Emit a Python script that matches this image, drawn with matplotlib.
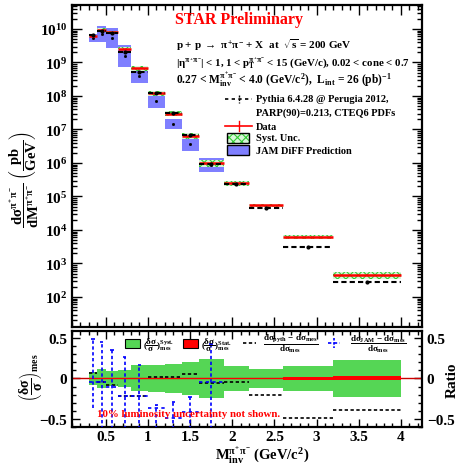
import numpy as np
import matplotlib
matplotlib.use("Agg")
import matplotlib.pyplot as plt
from matplotlib.ticker import LogLocator, MultipleLocator, NullFormatter, FixedLocator
from matplotlib.patches import Rectangle
from matplotlib.lines import Line2D

plt.rcParams['font.family'] = ['Liberation Serif', 'DejaVu Serif']
plt.rcParams['font.weight'] = 'bold'
plt.rcParams['mathtext.fontset'] = 'custom'
plt.rcParams['mathtext.rm'] = 'Liberation Serif:bold'
plt.rcParams['mathtext.it'] = 'Liberation Serif:bold'
plt.rcParams['mathtext.bf'] = 'Liberation Serif:bold'
plt.rcParams['mathtext.sf'] = 'Liberation Serif:bold'
plt.rcParams['hatch.linewidth'] = 0.8

# ---------------- data ----------------
bin_edges = [0.3, 0.4, 0.5, 0.65, 0.8, 1.0, 1.2, 1.4, 1.6, 1.9, 2.2, 2.6, 3.2, 4.0]
data_xsec = [6.3e9, 9.3e9, 8.0e9, 2.6e9, 6.7e8, 1.23e8, 3.0e7, 6.4e6, 9.8e5, 2.5e5, 5.5e4, 6.3e3, 4.6e2]
syst_rel = [0.08, 0.12, 0.09, 0.10, 0.16, 0.17, 0.18, 0.20, 0.24, 0.15, 0.12, 0.15, 0.23]
stat_rel = [0.01, 0.01, 0.01, 0.01, 0.01, 0.01, 0.01, 0.01, 0.01, 0.01, 0.01, 0.015, 0.025]
pythia_ratio = [0.07, -0.04, -0.08, -0.22, -0.22, 0.02, 0.02, 0.06, -0.06, -0.04, -0.20, -0.49, -0.39]
# JAM DiFF prediction boxes (first 9 bins only)
jam_lo = [4.2e9, 4.0e9, 2.7e9, 7.4e8, 2.5e8, 4.4e7, 1.0e7, 2.3e6, 5.4e5]
jam_hi = [7.1e9, 1.26e10, 1.07e10, 3.3e9, 6.4e8, 1.15e8, 2.0e7, 5.6e6, 1.4e6]
jam_ratio = [-0.05, -0.05, -0.10, -0.22, -0.22, -0.37, -0.49, -0.42, -0.04]
jam_ratio_hi = [0.49, 0.45, 0.35, 0.27, 0.16, -0.33, -0.29, -0.23, 0.43]
jam_ratio_lo = [-0.37, -0.70, -0.70, -0.70, -0.70, -0.70, -0.70, -0.70, -0.70]

main_yticks = [1e2, 1e3, 1e4, 1e5, 1e6, 1e7, 1e8, 1e9, 1e10]
main_yticklabels = [r'$10^{2}$', r'$10^{3}$', r'$10^{4}$', r'$10^{5}$', r'$10^{6}$',
                    r'$10^{7}$', r'$10^{8}$', r'$10^{9}$', r'$10^{10}$']
ratio_ticks = [-0.5, 0, 0.5]
ratio_ticklabels = ['\u22120.5', '0', '0.5']
x_ticks = [0.5, 1, 1.5, 2, 2.5, 3, 3.5, 4]
x_ticklabels = ['0.5', '1', '1.5', '2', '2.5', '3', '3.5', '4']

W, H = 461, 464
fig = plt.figure(figsize=(W / 100, H / 100), dpi=100)

def fx(px):
    return px / W

def fy(py):
    return 1 - py / H

ax = fig.add_axes([fx(72), fy(328), fx(422) - fx(72), fy(6) - fy(328)])
axr = fig.add_axes([fx(72), fy(428), fx(422) - fx(72), fy(332) - fy(428)])

edges = np.array(bin_edges)
lefts = edges[:-1]
rights = edges[1:]
widths = rights - lefts
centers = 0.5 * (lefts + rights)
vals = np.array(data_xsec)
syst = np.array(syst_rel)
stat = np.array(stat_rel)
pyth = vals * (1 + np.array(pythia_ratio))

BLUE = '#7f7fff'
GREEN = '#33cc33'
nj = len(jam_lo)

# ---------- main panel ----------
ax.bar(lefts[:nj], np.array(jam_hi) - np.array(jam_lo), bottom=jam_lo, width=widths[:nj],
       align='edge', color=BLUE, edgecolor='none', zorder=1)
ax.bar(lefts, 2 * syst * vals, bottom=vals * (1 - syst), width=widths, align='edge',
       facecolor='#d8f5d8', edgecolor=GREEN, hatch='xxxx', linewidth=0, zorder=2)
ax.hlines(vals, lefts, rights, colors='red', lw=1.8, zorder=4)
ax.vlines(centers, vals * (1 - stat), vals * (1 + stat), colors='red', lw=1.0, zorder=4)
ax.hlines(pyth, lefts, rights, colors='black', lw=1.5, linestyles=(0, (2.5, 1.5)), zorder=5)
ax.plot(centers, pyth, 'o', color='black', ms=2.0, zorder=6)
jam_mid = np.sqrt(np.array(jam_lo) * np.array(jam_hi))
ax.plot(centers[:nj], jam_mid, 's', color='black', ms=1.0, zorder=3)

ax.set_yscale('log')
ax.set_xlim(0.1, 4.25)
ax.set_ylim(10 ** 1.104, 10 ** 10.716)
ax.yaxis.set_major_locator(FixedLocator(main_yticks))
ax.set_yticklabels(main_yticklabels, fontsize=11)
ax.yaxis.set_minor_locator(LogLocator(base=10, subs=np.arange(2, 10)))
ax.yaxis.set_minor_formatter(NullFormatter())
ax.xaxis.set_major_locator(MultipleLocator(0.5))
ax.xaxis.set_minor_locator(MultipleLocator(0.1))
ax.tick_params(axis='x', labelbottom=False)
ax.tick_params(which='both', direction='in', top=True, right=True, width=1.0)
ax.tick_params(which='major', length=7)
ax.tick_params(which='minor', length=3.5)
for s in ax.spines.values():
    s.set_linewidth(1.6)

# main y label
fig.text(fx(24), fy(180),
         r'$\dfrac{\mathrm{d}\sigma^{\pi^{+}\pi^{-}}}{\mathrm{dM}^{\pi^{+}\pi^{-}}}\ \left(\dfrac{\mathrm{pb}}{\mathrm{GeV}}\right)$',
         rotation=90, ha='center', va='center', fontsize=10.5)

# texts in main panel
fig.text(fx(239), fy(20), 'STAR Preliminary', color='red', fontsize=11.5,
         fontweight='bold', ha='center', va='center')
fig.text(fx(176), fy(45), r'p + p $\rightarrow$ $\pi^{+}\pi^{-}$ + X  at  $\sqrt{\mathrm{s}}$ = 200 GeV',
         fontsize=8, ha='left', va='center')
fig.text(fx(176), fy(63), r'$|\eta^{\pi^{+}\pi^{-}}|$ < 1, 1 < $\mathrm{p}_{\mathrm{T}}^{\pi^{+}\pi^{-}}$ < 15 (GeV/c), 0.02 < cone < 0.7',
         fontsize=7.8, ha='left', va='center')
fig.text(fx(176), fy(80), r'0.27 < $\mathrm{M}_{\mathrm{inv}}^{\pi^{+}\pi^{-}}$ < 4.0 (GeV/c$^{2}$),  $\mathrm{L}_{\mathrm{int}}$ = 26 (pb)$^{-1}$',
         fontsize=8.3, ha='left', va='center')

# legend (main)
fig.add_artist(Line2D([fx(225), fx(252)], [fy(100), fy(100)], color='black', lw=1.2,
                      linestyle=(0, (2, 2))))
fig.add_artist(Line2D([fx(238.5), fx(238.5)], [fy(96), fy(104)], color='black', lw=1.0,
                      linestyle=(0, (1.5, 1))))
fig.text(fx(256), fy(100), 'Pythia 6.4.28 @ Perugia 2012,', fontsize=7.5, va='center')
fig.text(fx(256), fy(113), 'PARP(90)=0.213, CTEQ6 PDFs', fontsize=7.5, va='center')
fig.add_artist(Line2D([fx(225), fx(252)], [fy(127), fy(127)], color='red', lw=1.2))
fig.add_artist(Line2D([fx(238.5), fx(238.5)], [fy(122), fy(132)], color='red', lw=1.0))
fig.text(fx(256), fy(127), 'Data', fontsize=7.5, va='center')
fig.add_artist(Rectangle((fx(227), fy(144)), fx(22), fy(134) - fy(144), transform=fig.transFigure,
                         facecolor='#d8f5d8', edgecolor=GREEN, hatch='xxxx', lw=0))
fig.add_artist(Rectangle((fx(227), fy(144)), fx(22), fy(134) - fy(144), transform=fig.transFigure,
                         facecolor='none', edgecolor='black', lw=1.0))
fig.text(fx(256), fy(139), 'Syst. Unc.', fontsize=7.5, va='center')
fig.add_artist(Rectangle((fx(227), fy(156)), fx(22), fy(146) - fy(156), transform=fig.transFigure,
                         facecolor=BLUE, edgecolor='black', lw=1.0))
fig.text(fx(256), fy(151), 'JAM DiFF Prediction', fontsize=7.5, va='center')

# ---------- ratio panel ----------
axr.bar(lefts, 2 * syst, bottom=-syst, width=widths, align='edge', color='#55d655',
        edgecolor='none', zorder=1)
axr.axhline(0, color='#cc0000', lw=1.0, zorder=2)
axr.bar(lefts, 2 * stat, bottom=-stat, width=widths, align='edge', color='red',
        edgecolor='none', zorder=3)
axr.hlines(pythia_ratio, lefts, rights, colors='black', lw=1.2, linestyles=(0, (2, 1.5)), zorder=4)
jr = np.array(jam_ratio)
axr.hlines(jr, lefts[:nj], rights[:nj], colors='blue', lw=1.2, linestyles=(0, (2, 2)), zorder=5)
axr.vlines(centers[:nj], jam_ratio_lo, jam_ratio_hi, colors='blue', lw=1.2,
           linestyles=(0, (2, 1.5)), zorder=5)
axr.hlines(jam_ratio_hi, centers[:nj] - 0.02, centers[:nj] + 0.02, colors='blue', lw=1.2, zorder=5)

axr.set_xlim(0.1, 4.25)
axr.set_ylim(-0.6, 0.586)
axr.xaxis.set_major_locator(FixedLocator(x_ticks))
axr.set_xticklabels(x_ticklabels, fontsize=11)
axr.xaxis.set_minor_locator(MultipleLocator(0.1))
axr.yaxis.set_major_locator(FixedLocator(ratio_ticks))
axr.set_yticklabels(ratio_ticklabels, fontsize=11)
axr.yaxis.set_minor_locator(MultipleLocator(0.1))
axr.tick_params(which='both', direction='in', top=True, right=True, labelright=True, width=1.0)
axr.tick_params(which='major', length=6)
axr.tick_params(which='minor', length=3)
axr.tick_params(axis='x', pad=2)
for s in axr.spines.values():
    s.set_linewidth(1.6)

fig.text(fx(262), fy(455), r'$\mathrm{M}_{\mathrm{inv}}^{\pi^{+}\pi^{-}}$ (GeV/c$^{2}$)', fontsize=10.5,
         ha='center', va='center')
fig.text(fx(30), fy(378), r'$\left(\dfrac{\delta\sigma}{\sigma}\right)_{\mathrm{mes}}$', rotation=90,
         fontsize=10, ha='center', va='center')
fig.text(fx(452), fy(380), 'Ratio', rotation=90, fontsize=11, ha='center', va='center')

# ratio legend
fig.add_artist(Rectangle((fx(125), fy(349)), fx(15), fy(340) - fy(349), transform=fig.transFigure,
                         facecolor='#55d655', edgecolor='black', lw=0.8))
fig.text(fx(143), fy(345), r'$(\dfrac{\delta\sigma}{\sigma})^{\mathrm{Syst.}}_{\mathrm{mes}}$', fontsize=6.5,
         va='center')
fig.add_artist(Rectangle((fx(183), fy(349)), fx(15), fy(340) - fy(349), transform=fig.transFigure,
                         facecolor='red', edgecolor='black', lw=0.8))
fig.text(fx(201), fy(345), r'$(\dfrac{\delta\sigma}{\sigma})^{\mathrm{Stat.}}_{\mathrm{mes}}$', fontsize=6.5,
         va='center')
fig.add_artist(Line2D([fx(243), fx(256)], [fy(344), fy(344)], color='black', lw=1.2,
                      linestyle=(0, (2, 1.5))))
fig.text(fx(291), fy(344), r'$\dfrac{\mathrm{d}\sigma_{\mathrm{pyth}}\ \mathrm{-\ d}\sigma_{\mathrm{mes}}}{\mathrm{d}\sigma_{\mathrm{mes}}}$',
         fontsize=6.5, ha='center', va='center')
fig.add_artist(Line2D([fx(328), fx(340)], [fy(344), fy(344)], color='blue', lw=1.2,
                      linestyle=(0, (2, 1.5))))
fig.add_artist(Line2D([fx(334), fx(334)], [fy(339), fy(349)], color='blue', lw=1.2,
                      linestyle=(0, (1.5, 1))))
fig.text(fx(378), fy(344), r'$\dfrac{\mathrm{d}\sigma_{\mathrm{JAM}}\ \mathrm{-\ d}\sigma_{\mathrm{mes}}}{\mathrm{d}\sigma_{\mathrm{mes}}}$',
         fontsize=6.5, ha='center', va='center')
fig.text(fx(97), fy(415), '10% luminosity uncertainty not shown.', color='red', fontsize=7.8,
         ha='left', va='center')

fig.savefig('out.png', dpi=100)
